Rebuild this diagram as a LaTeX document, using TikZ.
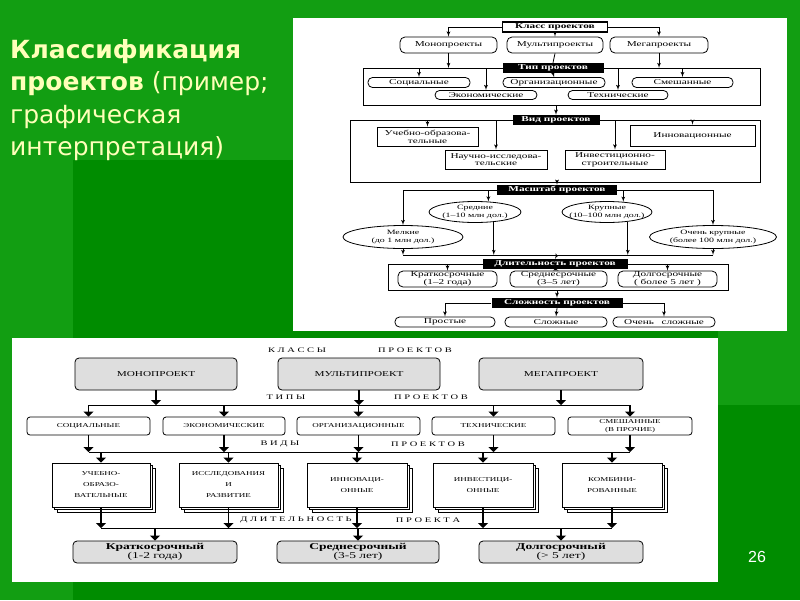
\documentclass[tikz,border=0pt]{standalone}
\usepackage{fontspec}
\setmainfont{Liberation Serif}
\newfontfamily\widefnt[FakeStretch=1.5]{Liberation Serif}
\newfontfamily\titlefnt{DejaVu Sans}
\newfontfamily\numfnt{Liberation Sans}
\usetikzlibrary{arrows,arrows.meta,positioning,calc,shapes.geometric,shadows}
\definecolor{slidegreen}{RGB}{18,158,18}
\definecolor{darkgreen}{RGB}{0,140,0}
\definecolor{titlecream}{RGB}{255,255,185}
\definecolor{scangray}{RGB}{222,222,222}
\newcommand\zw[1]{\makebox[0pt]{#1}}

\begin{document}
\begin{tikzpicture}[x=1pt, y=-1pt,
            every node/.style={inner sep=0pt, font=\widefnt\fontsize{7.5}{7.8}\selectfont},
            lbl/.style={fill=black, text=white, font=\widefnt\bfseries\fontsize{7.5}{8}\selectfont, minimum height=10pt},
            rbox/.style={draw, thick, rounded corners=5pt, align=center},
            pill/.style={draw, thick, rounded corners=4.5pt, align=center},
            sqbox/.style={draw, thick, align=center},
            ell/.style={draw, thick, ellipse, align=center, font=\widefnt\fontsize{6.6}{7.6}\selectfont},
            arr/.style={thick, -latex'},
            gbox/.style={draw, thick, fill=scangray, rounded corners=4pt, align=center, font=\widefnt\fontsize{7.5}{8}\selectfont},
            wbox/.style={draw, thick, fill=white, rounded corners=3pt, align=center, font=\widefnt\fontsize{6}{7.5}\selectfont},
            stk/.style={draw, thick, fill=white, align=center, font=\widefnt\fontsize{6}{11}\selectfont,
                        double copy shadow={shadow xshift=2.5pt, shadow yshift=-2.5pt, fill=white, draw=black, thick}},
            hdr/.style={font=\widefnt\fontsize{7}{8}\selectfont},
            barr/.style={line width=1.2pt, -{Triangle[width=10pt,length=5pt]}},
            bus/.style={line width=1pt}]
        \useasboundingbox (0,0) rectangle (800,600);
        \fill[slidegreen] (0,0) rectangle (800,600);
        \fill[darkgreen] (73,160) rectangle (800,600);
        \fill[slidegreen] (718,0) rectangle (800,405);
        \fill[white] (293,18) rectangle (787,331);
        \fill[white] (12,338) rectangle (718,582);

        \node[anchor=north west, align=left, text=titlecream, font=\titlefnt\fontsize{25}{32.5}\selectfont] (title) at (10,39)
            {\textbf{Классификация}\\\textbf{проектов} (пример;\\графическая\\интерпретация)};
        \node[text=white, font=\numfnt\fontsize{16}{16}\selectfont] (pnum) at (757,557) {26};

        % classes and types
        \node[lbl, draw, line width=1.2pt, fill=white, text=black, minimum width=105pt] (cls) at (555,27) {Класс проектов};
        \node[rbox, minimum width=97pt, minimum height=16pt] (mono) at (448.5,45) {Монопроекты};
        \node[rbox, minimum width=96pt, minimum height=16pt] (multi) at (555,45) {Мультипроекты};
        \node[rbox, minimum width=98pt, minimum height=16pt] (mega) at (659,45) {Мегапроекты};
        \draw[arr] (cls.west) -| (mono.north);
        \draw[arr] (cls.east) -| (mega.north);
        \draw[arr] (cls.south) -- (multi.north);

        \draw[thick] (363,68) rectangle (760,105);
        \node[lbl, minimum width=101pt] (tip) at (553,68) {Тип проектов};
        \draw[arr] (mono.south) -- (mono.south |- tip.center);
        \draw[arr] (mega.south) -- (mega.south |- tip.center);
        \draw[thick] (multi.south) -- (tip.north);
        \node[pill, minimum width=102pt, minimum height=10pt] (soc) at (419,82.5) {Социальные};
        \node[pill, minimum width=102pt, minimum height=10pt] (org) at (554,82.5) {Организационные};
        \node[pill, minimum width=101pt, minimum height=10pt] (mix) at (682.5,82.5) {Смешанные};
        \node[pill, minimum width=102pt, minimum height=9pt] (eco) at (486,95) {Экономические};
        \node[pill, minimum width=100pt, minimum height=9pt] (tech) at (618,95) {Технические};
        \draw[arr] (soc.north |- tip.center) -- (soc.north);
        \draw[arr] (eco.north |- tip.center) -- (eco.north);
        \draw[arr] (tip.south) -- (org.north);
        \draw[arr] (tech.north |- tip.center) -- (tech.north);
        \draw[arr] (mix.north |- tip.center) -- (mix.north);

        % kinds
        \draw[thick] (350,120) rectangle (760,182);
        \node[lbl, minimum width=87pt] (vid) at (556,120) {Вид проектов};
        \coordinate (f1s) at (556,105);
        \draw[arr] (f1s) -- (vid.north);
        \node[sqbox, minimum width=101pt, minimum height=19pt] (ucheb) at (427.5,136.5) {Учебно-образова-\\тельные};
        \node[sqbox, minimum width=102pt, minimum height=19pt] (nauch) at (496,159.5) {Научно-исследова-\\тельские};
        \node[sqbox, minimum width=100pt, minimum height=19pt] (invstr) at (615,159.5) {Инвестиционно-\\строительные};
        \node[sqbox, minimum width=125pt, minimum height=21pt] (innov) at (692.5,135.5) {Инновационные};
        \draw[arr] (ucheb.north |- vid.center) -- (ucheb.north);
        \draw[arr] (nauch.north |- vid.center) -- (nauch.north);
        \draw[arr] (invstr.north |- vid.center) -- (invstr.north);
        \draw[arr] (innov.north |- vid.center) -- (innov.north);

        % scale
        \node[lbl, minimum width=120pt] (mas) at (557,190) {Масштаб проектов};
        \coordinate (f2s) at (557,182);
        \draw[arr] (f2s) -- (mas.north);
        \node[ell, minimum width=92pt, minimum height=21pt] (sred) at (475,212) {\zw{Средние}\\\zw{(1–10 млн дол.)}};
        \node[ell, minimum width=90pt, minimum height=21pt] (krup) at (607,212) {\zw{Крупные}\\\zw{(10–100 млн дол.)}};
        \node[ell, minimum width=120pt, minimum height=23pt] (melk) at (403,237) {\zw{Мелкие}\\\zw{(до 1 млн дол.)}};
        \node[ell, minimum width=127pt, minimum height=23pt] (ochk) at (713,237) {\zw{Очень крупные}\\\zw{(более 100 млн дол.)}};
        \draw[arr] (mas.west) -| (melk.north);
        \draw[arr] (mas.east) -| (ochk.north);
        \draw[arr] (sred.38 |- mas.center) -- (sred.38);
        \draw[arr] (krup.32 |- mas.center) -- (krup.32);
        \coordinate (masbus) at (557,255);
        \draw[thick] (melk.south |- masbus) -- (ochk.south |- masbus);
        \draw[arr] (melk.south) -- (melk.south |- masbus);
        \draw[arr] (sred.-28) -- (sred.-28 |- masbus);
        \draw[arr] (krup.-25) -- (krup.-25 |- masbus);
        \draw[arr] (ochk.south) -- (ochk.south |- masbus);

        % duration
        \draw[thick] (388,264) rectangle (728,290);
        \node[lbl, minimum width=145pt] (dl) at (555,264) {Длительность проектов};
        \draw[arr] (masbus) -- (dl.north);
        \node[rbox, minimum width=99pt, minimum height=16pt] (krat) at (447.5,279) {Краткосрочные\\(1–2 года)};
        \node[rbox, minimum width=97pt, minimum height=16pt] (sreds) at (558.5,279) {Среднесрочные\\(3–5 лет)};
        \node[rbox, minimum width=99pt, minimum height=16pt] (dolg) at (667.5,279) {Долгосрочные\\( более 5 лет )};
        \draw[arr] (krat.north |- dl.center) -- (krat.north);
        \draw[arr] (dl.south) -- (sreds.north);
        \draw[arr] (dolg.north |- dl.center) -- (dolg.north);

        % complexity
        \node[lbl, minimum width=131pt] (sl) at (557,303) {Сложность проектов};
        \coordinate (f3s) at (557,290);
        \draw[arr] (f3s) -- (sl.north);
        \node[pill, minimum width=100pt, minimum height=10pt] (prost) at (445,322) {Простые};
        \node[pill, minimum width=102pt, minimum height=10pt] (slozh) at (556,322) {Сложные};
        \node[pill, minimum width=102pt, minimum height=10pt] (ochsl) at (664,322) {Очень\quad сложные};
        \draw[arr] (sl.west) -| (prost.north);
        \draw[arr] (sl.south) -- (slozh.north);
        \draw[arr] (sl.east) -| (ochsl.north);

        % lower scheme
        \node[hdr] (hcls) at (297,350) {К Л А С С Ы};
        \node[hdr] (hclsp) at (415,350) {П Р О Е К Т О В};
        \node[gbox, minimum width=162pt, minimum height=32pt] (bmono) at (156,374) {МОНОПРОЕКТ};
        \node[gbox, minimum width=162pt, minimum height=32pt] (bmulti) at (359,374) {МУЛЬТИПРОЕКТ};
        \node[gbox, minimum width=164pt, minimum height=32pt] (bmega) at (561,374) {МЕГАПРОЕКТ};

        \node[hdr] (htip) at (286,397) {Т И П Ы};
        \node[hdr] (htipp) at (431,397) {П Р О Е К Т О В};
        \node[wbox, minimum width=123pt, minimum height=18pt] (bsoc) at (88.5,426) {СОЦИАЛЬНЫЕ};
        \node[wbox, minimum width=122pt, minimum height=18pt] (beco) at (224,426) {ЭКОНОМИЧЕСКИЕ};
        \node[wbox, minimum width=123pt, minimum height=18pt] (borg) at (358.5,426) {ОРГАНИЗАЦИОННЫЕ};
        \node[wbox, minimum width=123pt, minimum height=18pt] (btech) at (493.5,426) {ТЕХНИЧЕСКИЕ};
        \node[wbox, minimum width=124pt, minimum height=18pt] (bmix) at (630,426) {СМЕШАННЫЕ\\(В ПРОЧИЕ)};
        \coordinate (bus1) at (359,405);
        \draw[bus] (bsoc.north |- bus1) -- (bmix.north |- bus1);
        \draw[barr] (bmono.south) -- (bmono.south |- bus1);
        \draw[barr] (bmulti.south) -- (bmulti.south |- bus1);
        \draw[barr] (bmega.south) -- (bmega.south |- bus1);
        \draw[barr] (bsoc.north |- bus1) -- (bsoc.north);
        \draw[barr] (beco.north |- bus1) -- (beco.north);
        \draw[barr] (borg.north |- bus1) -- (borg.north);
        \draw[barr] (btech.north |- bus1) -- (btech.north);
        \draw[barr] (bmix.north |- bus1) -- (bmix.north);

        \node[hdr] (hvid) at (280,444) {В И Д Ы};
        \node[hdr] (hvidp) at (428,444) {П Р О Е К Т О В};
        \node[stk, minimum width=98pt, minimum height=44pt] (bucheb) at (101,485) {УЧЕБНО-\\ОБРАЗО-\\ВАТЕЛЬНЫЕ};
        \node[stk, minimum width=99pt, minimum height=44pt] (bissl) at (228.5,485) {ИССЛЕДОВАНИЯ\\И\\РАЗВИТИЕ};
        \node[stk, minimum width=100pt, minimum height=44pt] (binnov) at (357,485) {ИННОВАЦИ-\\ОННЫЕ};
        \node[stk, minimum width=100pt, minimum height=44pt] (binvest) at (483,485) {ИНВЕСТИЦИ-\\ОННЫЕ};
        \node[stk, minimum width=100pt, minimum height=44pt] (bkomb) at (612,485) {КОМБИНИ-\\РОВАННЫЕ};
        \coordinate (bus2) at (359,452);
        \draw[bus] (bsoc.south |- bus2) -- (bmix.south |- bus2);
        \draw[barr] (bsoc.south) -- (bsoc.south |- bus2);
        \draw[barr] (beco.south) -- (beco.south |- bus2);
        \draw[barr] (borg.south) -- (borg.south |- bus2);
        \draw[barr] (btech.south) -- (btech.south |- bus2);
        \draw[barr] (bmix.south) -- (bmix.south |- bus2);
        \draw[barr] (bucheb.north |- bus2) -- (bucheb.north);
        \draw[barr] (bissl.north |- bus2) -- (bissl.north);
        \draw[barr] (binnov.north |- bus2) -- (binnov.north);
        \draw[barr] (binvest.north |- bus2) -- (binvest.north);
        \draw[barr] (bkomb.north |- bus2) -- (bkomb.north);

        \node[hdr] (hdl) at (296,520) {Д Л И Т Е Л Ь Н О С Т Ь};
        \node[hdr] (hdlp) at (428,520) {П Р О Е К Т А};
        \node[gbox, minimum width=164pt, minimum height=22pt, font=\widefnt\fontsize{9}{8}\selectfont] (bkrat) at (155,552) {\textbf{Краткосрочный}\\(1-2 года)};
        \node[gbox, minimum width=162pt, minimum height=22pt, font=\widefnt\fontsize{9}{8}\selectfont] (bsred) at (358,552) {\textbf{Среднесрочный}\\(3-5 лет)};
        \node[gbox, minimum width=164pt, minimum height=22pt, font=\widefnt\fontsize{9}{8}\selectfont] (bdolg) at (561,552) {\textbf{Долгосрочный}\\(> 5 лет)};
        \coordinate (bus3) at (359,528);
        \draw[bus] (bucheb.south |- bus3) -- (bkomb.south |- bus3);
        \draw[barr] (bucheb.south) -- (bucheb.south |- bus3);
        \draw[barr] (bissl.south) -- (bissl.south |- bus3);
        \draw[barr] (binnov.south) -- (binnov.south |- bus3);
        \draw[barr] (binvest.south) -- (binvest.south |- bus3);
        \draw[barr] (bkomb.south) -- (bkomb.south |- bus3);
        \draw[barr] (bkrat.north |- bus3) -- (bkrat.north);
        \draw[barr] (bsred.north |- bus3) -- (bsred.north);
        \draw[barr] (bdolg.north |- bus3) -- (bdolg.north);
\end{tikzpicture}
\end{document}
